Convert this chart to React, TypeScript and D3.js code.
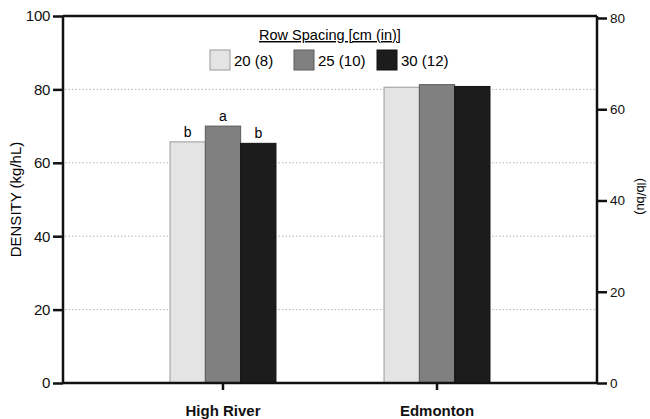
import * as React from "react";
import * as d3 from "d3";

const sites = ["High River", "Edmonton"];
const spacings = ["20 (8)", "25 (10)", "30 (12)"];
const colors = ["#e4e4e4", "#808080", "#1c1c1c"];
const strokes = ["#9a9a9a", "#5a5a5a", "#111111"];
const highRiver = [65.7, 70.0, 65.3];
const edmonton = [80.6, 81.3, 80.8];
const highRiverLetters = ["b", "a", "b"];
const leftTicks = [0, 20, 40, 60, 80, 100];
const rightTicks = [0, 20, 40, 60, 80];

const W = 650;
const H = 419;
const margin = { top: 16, right: 53, bottom: 36, left: 63 };

export default function App() {
  const ref = React.useRef<SVGSVGElement>(null);

  React.useEffect(() => {
    const svg = d3.select(ref.current);
    svg.selectAll("*").remove();

    const x0 = margin.left;
    const x1 = W - margin.right;
    const yBottom = H - margin.bottom;
    const font = "'Liberation Sans', Arial, sans-serif";

    const xScale = d3.scaleBand().domain(sites).range([x0, x1])
      .paddingInner(0.505).paddingOuter(0.5);
    const inner = d3.scaleBand().domain(spacings).range([0, xScale.bandwidth()]);
    const yScale = d3.scaleLinear().domain([0, 100]).range([yBottom, margin.top]);
    const yRight = d3.scaleLinear().domain([0, 80]).range([yBottom, 18]);

    const values: Record<string, number[]> = { "High River": highRiver, "Edmonton": edmonton };

    // grid lines
    svg.append("g").selectAll("line").data([20, 40, 60, 80]).enter().append("line")
      .attr("x1", x0 + 2).attr("x2", x1 - 2)
      .attr("y1", d => yScale(d)).attr("y2", d => yScale(d))
      .style("stroke", "#b5b5b5").style("stroke-width", 1)
      .style("stroke-dasharray", "1.5,2");

    // bars
    sites.forEach(site => {
      const g = svg.append("g").attr("transform", "translate(" + xScale(site) + ",0)");
      g.selectAll("rect").data(values[site]).enter().append("rect")
        .attr("x", (d, i) => inner(spacings[i]) as number)
        .attr("width", inner.bandwidth())
        .attr("y", d => yScale(d))
        .attr("height", d => yBottom - yScale(d))
        .style("fill", (d, i) => colors[i])
        .style("stroke", (d, i) => strokes[i])
        .style("stroke-width", 1);
      if (site === "High River") {
        g.selectAll("text.letter").data(values[site]).enter().append("text")
          .classed("letter", true)
          .attr("x", (d, i) => (inner(spacings[i]) as number) + inner.bandwidth() / 2)
          .attr("y", d => yScale(d) - 5)
          .attr("text-anchor", "middle")
          .style("font-family", font).style("font-size", "14px")
          .text((d, i) => highRiverLetters[i]);
      }
    });

    // frame lines
    const axisStyle = (sel: any) => sel.style("stroke", "#111").style("stroke-width", 2.5);
    axisStyle(svg.append("line").attr("x1", x0).attr("x2", x1).attr("y1", margin.top).attr("y2", margin.top));
    axisStyle(svg.append("line").attr("x1", x0).attr("x2", x1).attr("y1", yBottom).attr("y2", yBottom));
    axisStyle(svg.append("line").attr("x1", x0).attr("x2", x0).attr("y1", margin.top).attr("y2", yBottom));
    axisStyle(svg.append("line").attr("x1", x1).attr("x2", x1).attr("y1", margin.top).attr("y2", yBottom));

    // left axis
    const left = svg.append("g").attr("transform", "translate(" + x0 + ",0)")
      .call(d3.axisLeft(yScale).tickValues(leftTicks).tickSize(10).tickPadding(3));
    left.select(".domain").remove();
    left.selectAll("line").style("stroke", "#111").style("stroke-width", 2.5);
    left.selectAll("text").style("font-family", font).style("font-size", "15px")
      .style("letter-spacing", "-0.3px").style("fill", "#111");

    // right axis
    const right = svg.append("g").attr("transform", "translate(" + x1 + ",0)")
      .call(d3.axisRight(yRight).tickValues(rightTicks).tickSize(10).tickPadding(3));
    right.select(".domain").remove();
    right.selectAll("line").style("stroke", "#111").style("stroke-width", 2.5);
    right.selectAll("text").style("font-family", font).style("font-size", "13.5px").style("fill", "#111");

    // bottom axis
    const bottom = svg.append("g").attr("transform", "translate(0," + yBottom + ")")
      .call(d3.axisBottom(xScale).tickSize(7).tickPadding(15));
    bottom.select(".domain").remove();
    bottom.selectAll("line").style("stroke", "#111").style("stroke-width", 2.5);
    bottom.selectAll("text").style("font-family", font).style("font-size", "15px")
      .style("font-weight", "bold").style("fill", "#111");

    // axis titles
    svg.append("text")
      .attr("transform", "translate(21," + (yScale(50)) + ") rotate(-90)")
      .attr("text-anchor", "middle")
      .style("font-family", font).style("font-size", "15px")
      .text("DENSITY (kg/hL)");
    svg.append("text")
      .attr("transform", "translate(637," + (yScale(50) - 3) + ") rotate(90)")
      .attr("text-anchor", "middle")
      .style("font-family", font).style("font-size", "13px")
      .text("(lb/bu)");

    // legend
    svg.append("text")
      .attr("x", 330).attr("y", 40)
      .attr("text-anchor", "middle")
      .style("font-family", font).style("font-size", "14.5px")
      .style("text-decoration", "underline")
      .text("Row Spacing [cm (in)]");
    const legendX = [210, 294, 377];
    const legend = svg.append("g");
    legend.selectAll("rect").data(spacings).enter().append("rect")
      .attr("x", (d, i) => legendX[i]).attr("y", 50)
      .attr("width", 20).attr("height", 20)
      .style("fill", (d, i) => colors[i])
      .style("stroke", (d, i) => strokes[i]);
    legend.selectAll("text").data(spacings).enter().append("text")
      .attr("x", (d, i) => legendX[i] + 24).attr("y", 66)
      .style("font-family", font).style("font-size", "15px")
      .text(d => d);
  }, []);

  return <svg ref={ref} width={W} height={H} style={{ display: "block", position: "absolute", left: 0, top: 0, background: "#fff" }} />;
}
